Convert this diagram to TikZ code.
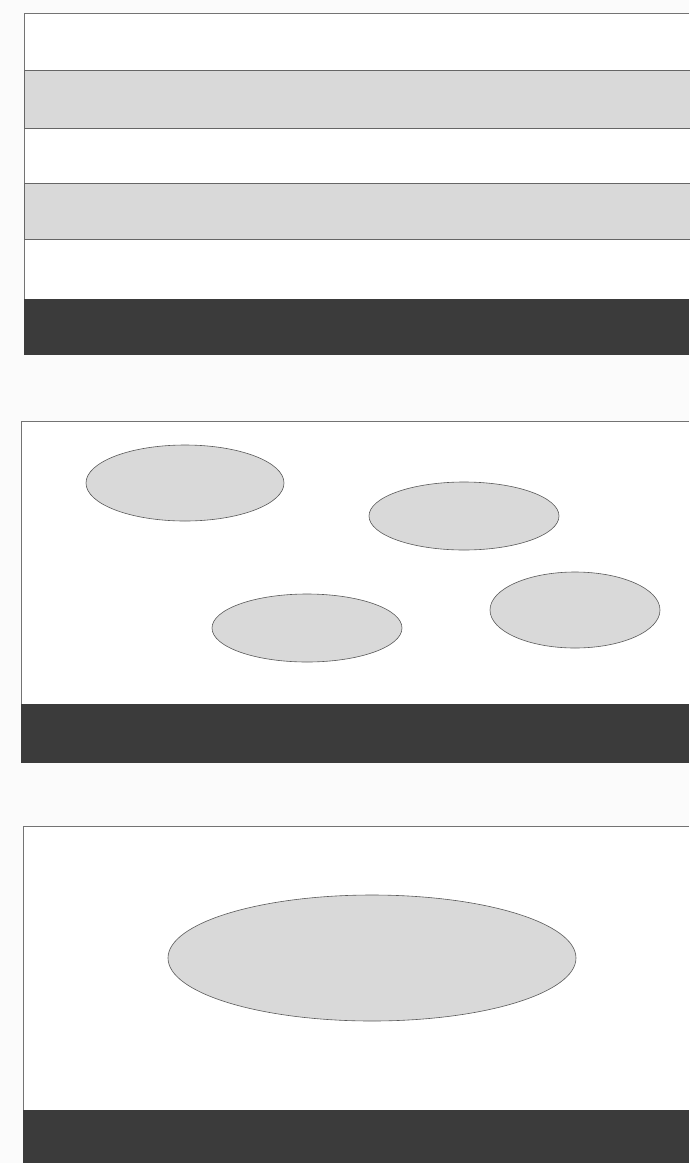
\documentclass[tikz,border=0pt]{standalone}
\begin{document}
\begin{tikzpicture}[x=1pt,y=-1pt,
  frame/.style={draw=black!55,line width=0.6pt},
  layer/.style={fill=black!15,draw=black!60,line width=0.6pt},
  blob/.style={fill=black!15,draw=black!65,line width=0.6pt},
  base/.style={fill=black!77}]
\useasboundingbox[fill=white!98.5!black] (0,0) rectangle (689,1163);
% panel 1
\fill[white] (24,13) rectangle (689,355);
\draw[frame] (689,13) -- (24,13) -- (24,355);
\draw[layer] (24,70) rectangle (700,128);
\draw[layer] (24,183) rectangle (700,239);
\fill[base] (24,299) rectangle (689,355);
% panel 2
\fill[white] (21,421) rectangle (689,763);
\draw[frame] (689,421) -- (21,421) -- (21,763);
\fill[base] (21,704) rectangle (689,763);
\draw[blob] (185,483) ellipse [x radius=99,y radius=38];
\draw[blob] (464,516) ellipse [x radius=95,y radius=34];
\draw[blob] (307,628) ellipse [x radius=95,y radius=34];
\draw[blob] (575,610) ellipse [x radius=85,y radius=38];
% panel 3
\fill[white] (23,826) rectangle (689,1163);
\draw[frame] (689,826) -- (23,826) -- (23,1163);
\fill[base] (23,1110) rectangle (689,1163);
\draw[blob] (372,958) ellipse [x radius=204,y radius=63];
\end{tikzpicture}
\end{document}
